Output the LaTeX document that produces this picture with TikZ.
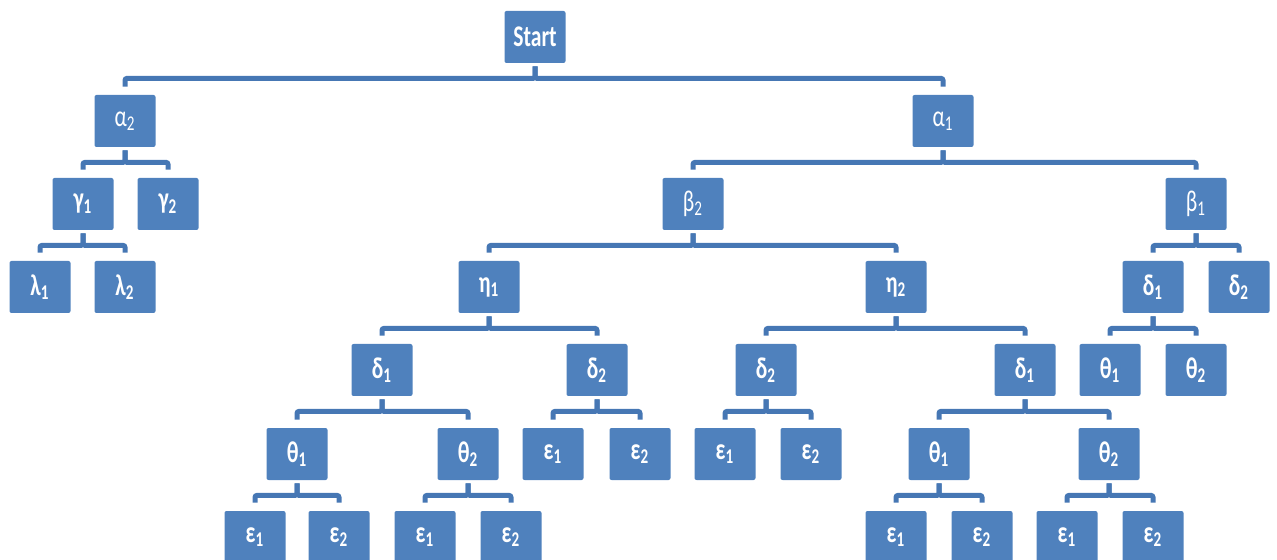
\documentclass[tikz,border=0pt]{standalone}
\usepackage{fontspec}
\newfontfamily\boxfont[FakeStretch=0.72]{Carlito}
\definecolor{boxblue}{HTML}{4F81BD}
\definecolor{linkblue}{HTML}{4677B4}
% bracket from a parent box down to one child box
\newcommand{\branch}[2]{\draw[link] ([yshift=-1.5pt]#1.south) -- ++(0pt,-6pt) -| ([yshift=4pt]#2.north);}
\begin{document}
\begin{tikzpicture}[x=0.5pt,y=-0.5pt,
    box/.style={fill=boxblue, rounded corners=1pt, minimum width=30.5pt, minimum height=26pt,
        inner sep=0pt, text=white, font=\boxfont\bfseries\fontsize{15}{17}\selectfont},
    lightbox/.style={box, font=\boxfont\fontsize{15}{17}\selectfont},
    link/.style={draw=linkblue, line width=2.5pt, rounded corners=1pt}]
    \useasboundingbox (0,0) rectangle (1277,560);
    \node[box] (start) at (535,37) {Start};
    % left part
    \node[lightbox] (a2) at (125,121) {α\textsubscript{2}};
    \node[box] (g1) at (83,204) {γ\textsubscript{1}};
    \node[box] (g2) at (168,204) {γ\textsubscript{2}};
    \node[box] (l1) at (40,287) {λ\textsubscript{1}};
    \node[box] (l2) at (125,287) {λ\textsubscript{2}};
    % right part
    \node[lightbox] (a1) at (943,121) {α\textsubscript{1}};
    \node[lightbox] (b2) at (693,204) {β\textsubscript{2}};
    \node[lightbox] (b1) at (1196,204) {β\textsubscript{1}};
    \node[box] (h1) at (489,287) {η\textsubscript{1}};
    \node[box] (h2) at (896,287) {η\textsubscript{2}};
    \node[box] (bd1) at (1153,287) {δ\textsubscript{1}};
    \node[box] (bd2) at (1239,287) {δ\textsubscript{2}};
    \node[box] (ad1) at (382,370) {δ\textsubscript{1}};
    \node[box] (ad2) at (597,370) {δ\textsubscript{2}};
    \node[box] (cd2) at (766,370) {δ\textsubscript{2}};
    \node[box] (cd1) at (1025,370) {δ\textsubscript{1}};
    \node[box] (bt1) at (1110,370) {θ\textsubscript{1}};
    \node[box] (bt2) at (1196,370) {θ\textsubscript{2}};
    \node[box] (at1) at (297,454) {θ\textsubscript{1}};
    \node[box] (at2) at (468,454) {θ\textsubscript{2}};
    \node[box] (de1) at (553,454) {ε\textsubscript{1}};
    \node[box] (de2) at (640,454) {ε\textsubscript{2}};
    \node[box] (ce1) at (725,454) {ε\textsubscript{1}};
    \node[box] (ce2) at (811,454) {ε\textsubscript{2}};
    \node[box] (ct1) at (939,454) {θ\textsubscript{1}};
    \node[box] (ct2) at (1109,454) {θ\textsubscript{2}};
    \node[box] (e11) at (255,537) {ε\textsubscript{1}};
    \node[box] (e12) at (339,537) {ε\textsubscript{2}};
    \node[box] (e21) at (425,537) {ε\textsubscript{1}};
    \node[box] (e22) at (511,537) {ε\textsubscript{2}};
    \node[box] (e31) at (896,537) {ε\textsubscript{1}};
    \node[box] (e32) at (982,537) {ε\textsubscript{2}};
    \node[box] (e41) at (1067,537) {ε\textsubscript{1}};
    \node[box] (e42) at (1153,537) {ε\textsubscript{2}};
    % brackets
    \branch{start}{a2} \branch{start}{a1}
    \branch{a2}{g1} \branch{a2}{g2}
    \branch{g1}{l1} \branch{g1}{l2}
    \branch{a1}{b2} \branch{a1}{b1}
    \branch{b2}{h1} \branch{b2}{h2}
    \branch{b1}{bd1} \branch{b1}{bd2}
    \branch{bd1}{bt1} \branch{bd1}{bt2}
    \branch{h1}{ad1} \branch{h1}{ad2}
    \branch{h2}{cd2} \branch{h2}{cd1}
    \branch{ad1}{at1} \branch{ad1}{at2}
    \branch{ad2}{de1} \branch{ad2}{de2}
    \branch{cd2}{ce1} \branch{cd2}{ce2}
    \branch{cd1}{ct1} \branch{cd1}{ct2}
    \branch{at1}{e11} \branch{at1}{e12}
    \branch{at2}{e21} \branch{at2}{e22}
    \branch{ct1}{e31} \branch{ct1}{e32}
    \branch{ct2}{e41} \branch{ct2}{e42}
\end{tikzpicture}
\end{document}
